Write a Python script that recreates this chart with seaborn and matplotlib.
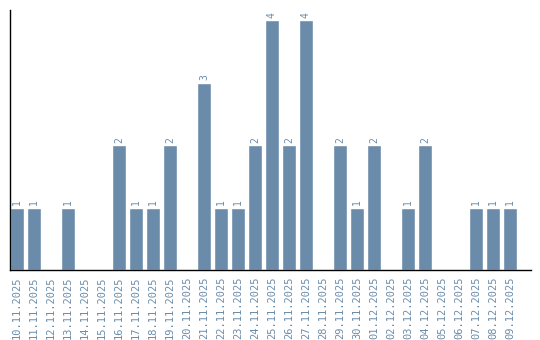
import matplotlib
matplotlib.use("Agg")
import matplotlib.pyplot as plt
import seaborn as sns
import pandas as pd

dates = ["10.11.2025", "11.11.2025", "12.11.2025", "13.11.2025", "14.11.2025",
         "15.11.2025", "16.11.2025", "17.11.2025", "18.11.2025", "19.11.2025",
         "20.11.2025", "21.11.2025", "22.11.2025", "23.11.2025", "24.11.2025",
         "25.11.2025", "26.11.2025", "27.11.2025", "28.11.2025", "29.11.2025",
         "30.11.2025", "01.12.2025", "02.12.2025", "03.12.2025", "04.12.2025",
         "05.12.2025", "06.12.2025", "07.12.2025", "08.12.2025", "09.12.2025"]
counts = [1, 1, 0, 1, 0, 0, 2, 1, 1, 2, 0, 3, 1, 1, 2, 4, 2, 4, 0, 2,
          1, 2, 0, 1, 2, 0, 0, 1, 1, 1]

sns.set_style("white")
plt.rcParams['font.family'] = ['DejaVu Sans Mono', 'DejaVu Sans']

color = "#6a8caa"
df = pd.DataFrame({"date": dates, "count": counts})

fig = plt.figure(figsize=(5.4, 3.4), dpi=100)
ax = fig.add_axes([10/540, 70/340, 521/540, 260/340])
sns.barplot(data=df, x="date", y="count", color=color, width=0.82,
            saturation=1, ax=ax, order=dates)

for i, v in enumerate(counts):
    if v > 0:
        ax.text(i, v + 0.04, str(v), rotation=90, ha="center", va="bottom",
                fontsize=7, color=color)

ax.set_xlim(-0.41, 30.24)
ax.set_ylim(0, 4.16)
ax.set_xlabel("")
ax.set_ylabel("")
ax.set_yticks([])
ax.tick_params(axis="x", length=0, pad=5, labelsize=7.5, labelcolor=color, rotation=90)
for lab in ax.get_xticklabels():
    lab.set_va("top")
for s in ["top", "right"]:
    ax.spines[s].set_visible(False)
for s in ["left", "bottom"]:
    ax.spines[s].set_color("black")
    ax.spines[s].set_linewidth(1.0)

fig.savefig("out.png", dpi=100)
